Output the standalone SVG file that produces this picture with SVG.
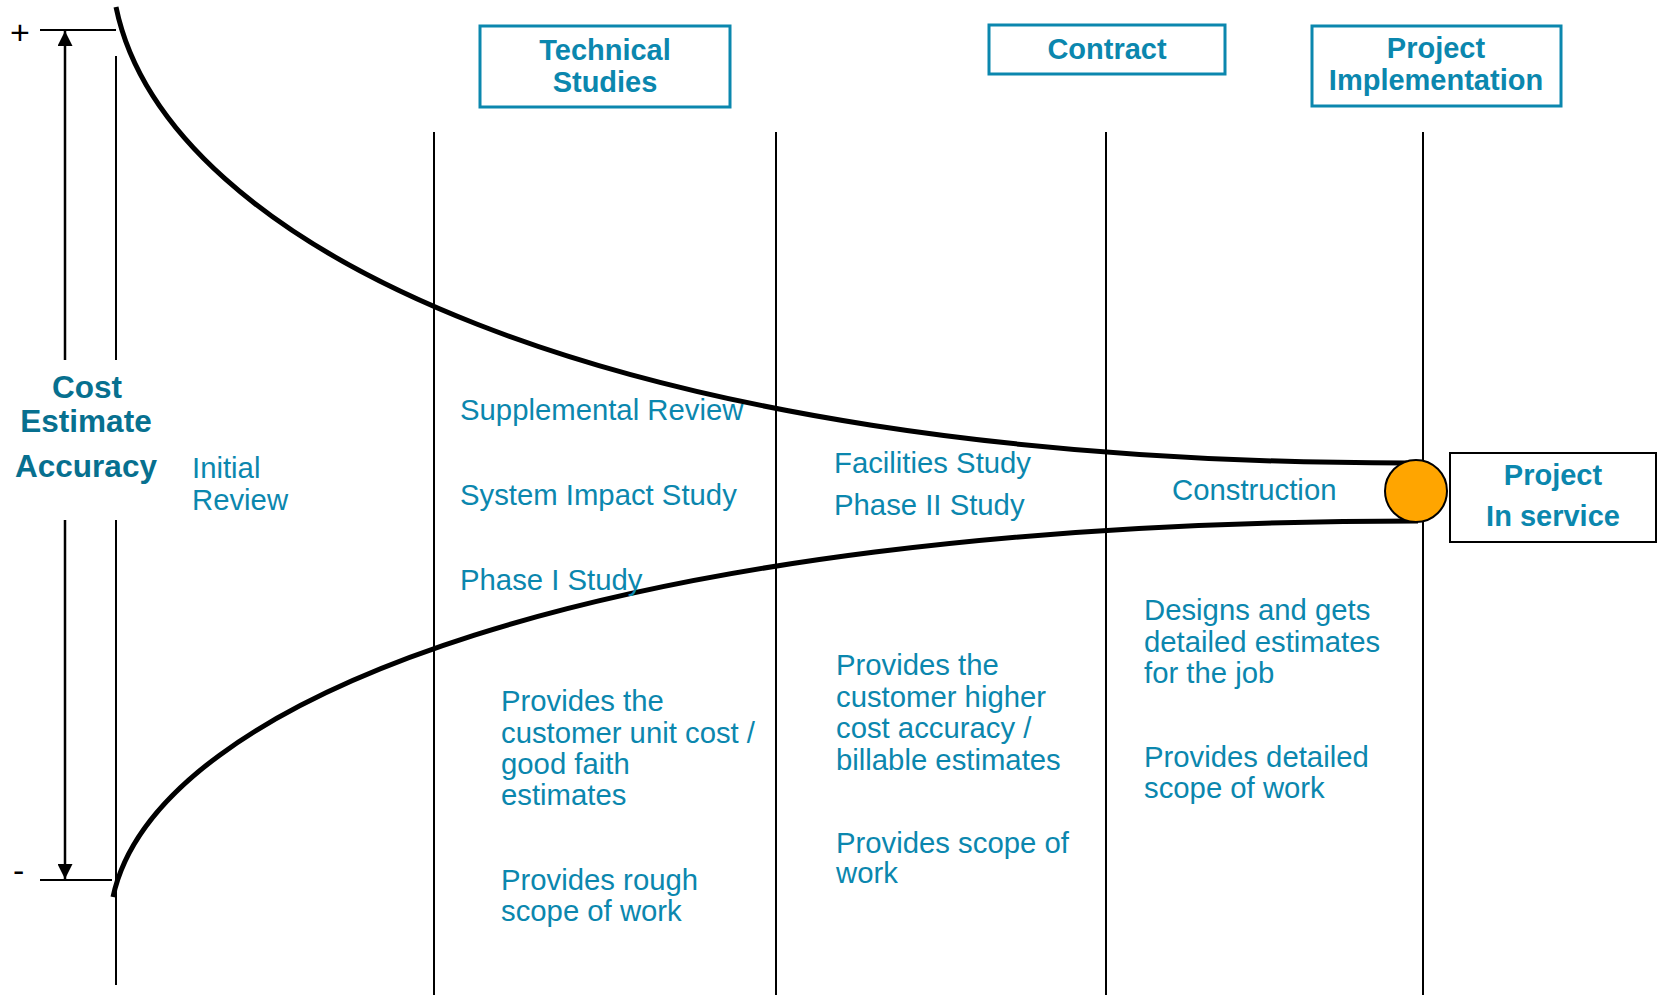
<svg xmlns="http://www.w3.org/2000/svg" width="1660" height="995" viewBox="0 0 1660 995">
<defs>
<style>
.t{font-family:"Liberation Sans",Arial,sans-serif;font-size:29.3px;fill:#0B87AE}
.b{font-family:"Liberation Sans",Arial,sans-serif;font-size:29px;font-weight:bold;fill:#0B87AE;text-anchor:middle}
.d{font-family:"Liberation Sans",Arial,sans-serif;font-size:31.5px;font-weight:bold;fill:#07708F;text-anchor:middle}
.k{font-family:"Liberation Sans",Arial,sans-serif;font-size:34px;fill:#000}
.hb{fill:#fff;stroke:#0B87AE;stroke-width:3}
.ln{stroke:#000;stroke-width:2;fill:none}
.cv{stroke:#000;stroke-width:5;fill:none}
</style>
<marker id="ah" viewBox="0 0 10 10" refX="10" refY="5" markerWidth="6" markerHeight="6" orient="auto-start-reverse" markerUnits="strokeWidth">
<path d="M0,0 L10,5 L0,10 z" fill="#000"/>
</marker>
</defs>
<rect width="1660" height="995" fill="#fff"/>
<g id="connectors">
<line class="ln" x1="434" y1="132" x2="434" y2="995"/>
<line class="ln" x1="776" y1="132" x2="776" y2="995"/>
<line class="ln" x1="1106" y1="132" x2="1106" y2="995"/>
<line class="ln" x1="1423" y1="132" x2="1423" y2="995"/>
<line class="ln" x1="116" y1="56" x2="116" y2="360"/>
<line class="ln" x1="116" y1="520" x2="116" y2="985"/>
<line class="ln" x1="40" y1="30" x2="116" y2="30"/>
<line class="ln" x1="40" y1="880" x2="112" y2="880"/>
<line stroke="#000" stroke-width="2.5" x1="65" y1="360" x2="65" y2="31" marker-end="url(#ah)"/>
<line stroke="#000" stroke-width="2.5" x1="65" y1="520" x2="65" y2="879" marker-end="url(#ah)"/>
<path class="cv" d="M116,7 C165,245 600,463 1407,463"/>
<path class="cv" d="M113,897 C155,700 600,521 1418,521"/>
</g>
<g id="scale-labels">
<text class="k" x="10" y="44">+</text>
<text class="k" x="13" y="882">-</text>
</g>
<g id="cost-estimate-accuracy">
<text class="d" x="87" y="398">Cost</text>
<text class="d" x="86" y="432">Estimate</text>
<text class="d" x="86" y="477">Accuracy</text>
</g>
<g id="technical-studies">
<rect class="hb" x="480" y="26" width="250" height="81"/>
<text class="b" x="605" y="60">Technical</text>
<text class="b" x="605" y="92">Studies</text>
</g>
<g id="contract">
<rect class="hb" x="989" y="25" width="236" height="49"/>
<text class="b" x="1107" y="59">Contract</text>
</g>
<g id="project-implementation">
<rect class="hb" x="1312" y="26" width="249" height="80"/>
<text class="b" x="1436" y="58">Project</text>
<text class="b" x="1436" y="90">Implementation</text>
</g>
<g id="project-in-service">
<rect x="1450" y="453" width="206" height="89" fill="#fff" stroke="#000" stroke-width="2"/>
<text class="b" x="1553" y="485">Project</text>
<text class="b" x="1553" y="526">In service</text>
</g>
<g id="milestone">
<circle cx="1416" cy="491" r="31" fill="#FFA500" stroke="#000" stroke-width="2"/>
</g>
<g id="initial-review">
<text class="t" x="192" y="478">Initial</text>
<text class="t" x="192" y="510">Review</text>
</g>
<g id="technical-phase">
<text class="t" x="460" y="420">Supplemental Review</text>
<text class="t" x="460" y="505">System Impact Study</text>
<text class="t" x="460" y="590">Phase I Study</text>
<text class="t" x="501" y="711">Provides the</text>
<text class="t" x="501" y="743">customer unit cost /</text>
<text class="t" x="501" y="774">good faith</text>
<text class="t" x="501" y="805">estimates</text>
<text class="t" x="501" y="890">Provides rough</text>
<text class="t" x="501" y="921">scope of work</text>
</g>
<g id="contract-phase">
<text class="t" x="834" y="473">Facilities Study</text>
<text class="t" x="834" y="515">Phase II Study</text>
<text class="t" x="836" y="675">Provides the</text>
<text class="t" x="836" y="707">customer higher</text>
<text class="t" x="836" y="738">cost accuracy /</text>
<text class="t" x="836" y="770">billable estimates</text>
<text class="t" x="836" y="853">Provides scope of</text>
<text class="t" x="836" y="883">work</text>
</g>
<g id="implementation-phase">
<text class="t" x="1172" y="500">Construction</text>
<text class="t" x="1144" y="620">Designs and gets</text>
<text class="t" x="1144" y="652">detailed estimates</text>
<text class="t" x="1144" y="683">for the job</text>
<text class="t" x="1144" y="767">Provides detailed</text>
<text class="t" x="1144" y="798">scope of work</text>
</g>
</svg>
